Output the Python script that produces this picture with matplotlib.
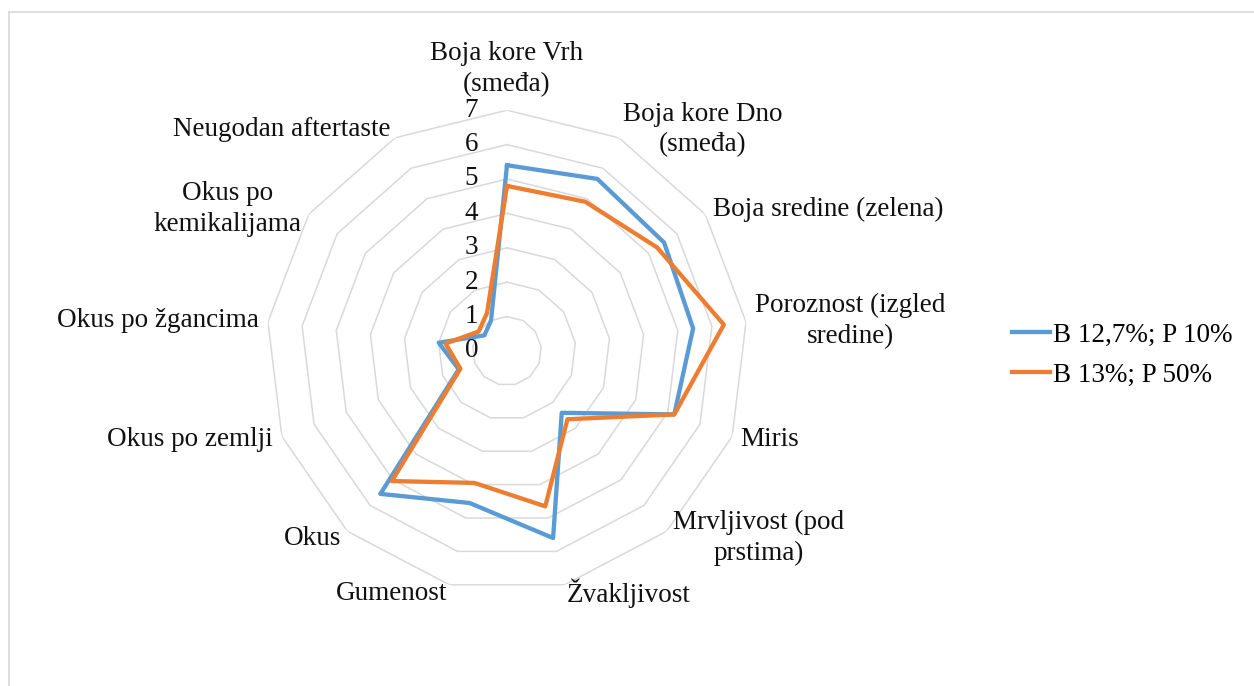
import numpy as np
import matplotlib
matplotlib.use("Agg")
import matplotlib.pyplot as plt
import matplotlib.transforms as mtransforms
from matplotlib.lines import Line2D

categories = [
    "Boja kore Vrh\n(smeđa)",
    "Boja kore Dno\n(smeđa)",
    "Boja sredine (zelena)",
    "Poroznost (izgled\nsredine)",
    "Miris",
    "Mrvljivost (pod\nprstima)",
    "Žvakljivost",
    "Gumenost",
    "Okus",
    "Okus po zemlji",
    "Okus po žgancima",
    "Okus po\nkemikalijama",
    "Neugodan aftertaste",
]
series_names = ["B 12,7%; P 10%", "B 13%; P 50%"]
blue_values = [5.4, 5.65, 5.55, 5.45, 5.2, 2.4, 5.6, 4.55, 5.55, 1.5, 2.0, 0.8, 1.0]
orange_values = [4.8, 4.9, 5.3, 6.35, 5.2, 2.65, 4.65, 3.95, 5.05, 1.45, 1.8, 1.0, 1.25]
tick_values = [0, 1, 2, 3, 4, 5, 6, 7]

colors = ["#5B9BD5", "#ED7D31"]
grid_color = "#D9D9D9"
font = ["Liberation Serif", "DejaVu Serif"]
fs = 19.5

W, H, DPI = 1254, 686, 100
fig = plt.figure(figsize=(W / DPI, H / DPI), dpi=DPI)
plt.rcParams["font.family"] = font

# chart-area border
fig.add_artist(plt.Line2D([8.5 / W, 8.5 / W], [0, 1 - 11.5 / H], transform=fig.transFigure,
                          color=grid_color, lw=1.2))
fig.add_artist(plt.Line2D([8.5 / W, 1], [1 - 11.5 / H, 1 - 11.5 / H], transform=fig.transFigure,
                          color=grid_color, lw=1.2))

cx, cy, R = 507, 351, 240.8
ax = fig.add_axes([(cx - R) / W, 1 - (cy + R) / H, 2 * R / W, 2 * R / H], projection="polar")
ax.set_theta_zero_location("N")
ax.set_theta_direction(-1)
ax.set_ylim(0, 7)
ax.grid(False)
ax.set_xticks([])
ax.set_yticks([])
ax.spines["polar"].set_visible(False)
ax.patch.set_alpha(0)

n = len(categories)
angles = np.arange(n) * 2 * np.pi / n
ang_c = np.append(angles, angles[0])

for r in tick_values[1:]:
    ax.plot(ang_c, [r] * (n + 1), color=grid_color, lw=1.1, zorder=1)

for vals, col, name in [(blue_values, colors[0], series_names[0]),
                        (orange_values, colors[1], series_names[1])]:
    v = np.append(vals, vals[0])
    ax.plot(ang_c, v, color=col, lw=3.1, solid_joinstyle="round", zorder=3, label=name)

# radial tick labels, left of the vertical axis
off = mtransforms.offset_copy(ax.transData, fig=fig, x=-29, y=0, units="dots")
for t in tick_values:
    ax.text(0, t, str(t), transform=off, ha="right", va="center", fontsize=fs,
            family=font, color="#111111")

# category labels
unit = R / 7
for a, lab in zip(angles, categories):
    deg = np.degrees(a)
    r_lab = 250 / unit
    if deg < 1:
        ha, va = "center", "bottom"
        r_lab = 254 / unit
    elif deg < 180:
        ha, va = "left", "center"
    else:
        ha, va = "right", "center"
    ax.text(a, r_lab, lab, ha=ha, va=va, multialignment="center", fontsize=fs,
            family=font, color="#111111", linespacing=1.3, clip_on=False)

handles = [Line2D([], [], color=c, lw=3.1) for c in colors]
fig.legend(handles, series_names, loc="center left",
           bbox_to_anchor=(1012 / W, 1 - 355 / H), frameon=False, fontsize=fs,
           handlelength=1.4, handletextpad=0.1, borderpad=0, borderaxespad=0,
           labelspacing=0.55, prop={"family": font, "size": fs})

fig.savefig("out.png", dpi=DPI, facecolor="white")
